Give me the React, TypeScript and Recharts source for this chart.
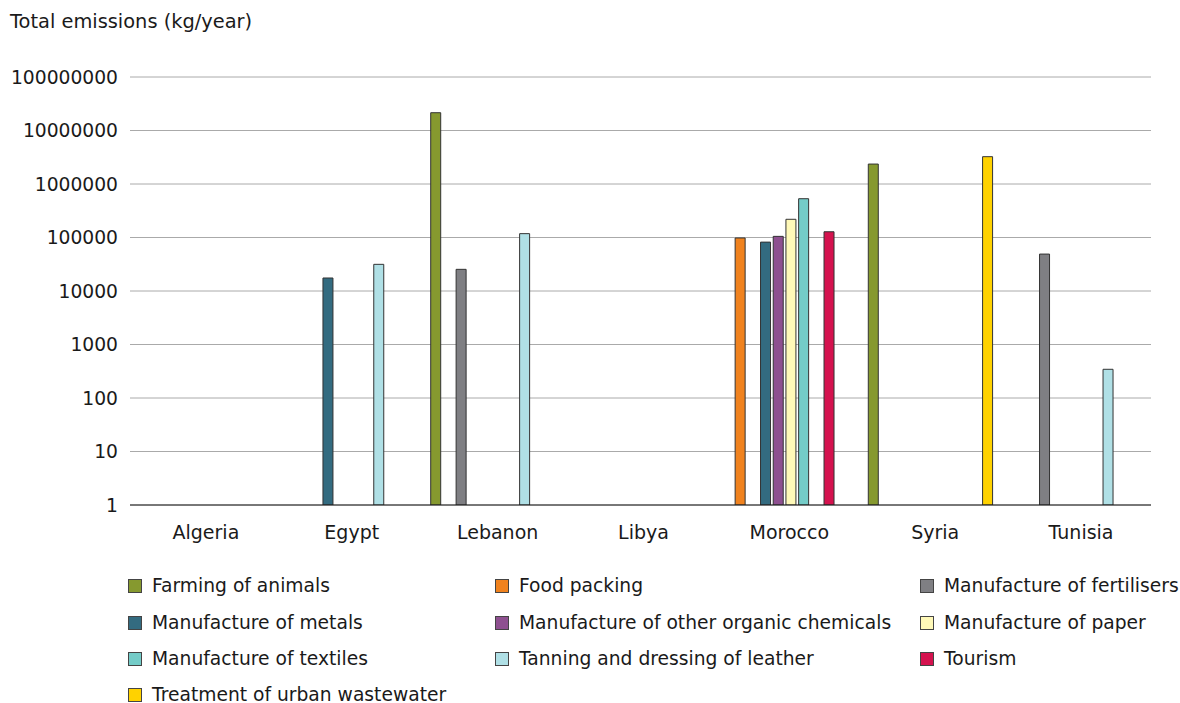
import { BarChart, Bar, XAxis, YAxis, CartesianGrid } from "recharts";

const countries = ["Algeria", "Egypt", "Lebanon", "Libya", "Morocco", "Syria", "Tunisia"];

// one value per country, null = no bar
const farming = [null, null, 21500000, null, null, 2360000, null];
const foodPacking = [null, null, null, null, 98000, null, null];
const fertilisers = [null, null, 25400, null, null, null, 49000];
const metals = [null, 17500, null, null, 82000, null, null];
const otherOrganic = [null, null, null, null, 105000, null, null];
const paper = [null, null, null, null, 219000, null, null];
const textiles = [null, null, null, null, 531000, null, null];
const tanning = [null, 31500, 118000, null, null, null, 344];
const tourism = [null, null, null, null, 128000, null, null];
const wastewater = [null, null, null, null, null, 3240000, null];

const yTicks = [1, 10, 100, 1000, 10000, 100000, 1000000, 10000000, 100000000];

const series = [
  { key: "farming", name: "Farming of animals", color: "#86992f", values: farming },
  { key: "foodPacking", name: "Food packing", color: "#f0821e", values: foodPacking },
  { key: "fertilisers", name: "Manufacture of fertilisers", color: "#7f7f83", values: fertilisers },
  { key: "metals", name: "Manufacture of metals", color: "#336b80", values: metals },
  { key: "otherOrganic", name: "Manufacture of other organic chemicals", color: "#8e5090", values: otherOrganic },
  { key: "paper", name: "Manufacture of paper", color: "#fff9b8", values: paper },
  { key: "textiles", name: "Manufacture of textiles", color: "#74ccc8", values: textiles },
  { key: "tanning", name: "Tanning and dressing of leather", color: "#b0e0e6", values: tanning },
  { key: "tourism", name: "Tourism", color: "#d4124e", values: tourism },
  { key: "wastewater", name: "Treatment of urban wastewater", color: "#ffd200", values: wastewater },
];

const data = countries.map((country, i) => {
  const row: Record<string, string | number | null> = { country };
  series.forEach((s) => {
    row[s.key] = s.values[i];
  });
  return row;
});

const FONT = "'DejaVu Sans', Verdana, sans-serif";

export default function App() {
  return (
    <div
      style={{
        position: "absolute",
        left: 0,
        top: 0,
        width: 1180,
        height: 703,
        background: "#fff",
        fontFamily: FONT,
        color: "#1a1a1a",
        overflow: "hidden",
      }}
    >
      <div style={{ position: "absolute", left: 10, top: 10, fontSize: 19.4 }}>
        Total emissions (kg/year)
      </div>
      <div style={{ position: "absolute", left: 0, top: 0 }}>
        <BarChart
          width={1180}
          height={560}
          data={data}
          margin={{ top: 77, right: 29, bottom: 25, left: 1 }}
          barCategoryGap={9}
          barGap={2.7}
        >
          <CartesianGrid vertical={false} stroke="#aaaaaa" />
          <XAxis
            dataKey="country"
            height={30}
            axisLine={{ stroke: "#1a1a1a" }}
            tickLine={false}
            tickSize={0}
            tickMargin={21}
            tick={{ fill: "#1a1a1a", fontSize: 19, fontFamily: FONT, dx: 3 }}
          />
          <YAxis
            width={129}
            scale="log"
            domain={[1, 100000000]}
            ticks={yTicks}
            allowDataOverflow
            axisLine={false}
            tickLine={false}
            tickSize={0}
            tickMargin={12}
            tick={{ fill: "#1a1a1a", fontSize: 18.7, fontFamily: FONT }}
          />
          {series.map((s) => (
            <Bar
              key={s.key}
              dataKey={s.key}
              name={s.name}
              fill={s.color}
              stroke="#333333"
              strokeWidth={1}
              isAnimationActive={false}
            />
          ))}
        </BarChart>
      </div>
      <div
        style={{
          position: "absolute",
          left: 128,
          top: 568,
          display: "grid",
          gridTemplateColumns: "367px 425px 260px",
          gridAutoRows: "36.4px",
          fontSize: 18.7,
          lineHeight: "22px",
        }}
      >
        {series.map((s) => (
          <div key={s.key} style={{ display: "flex", alignItems: "center", whiteSpace: "nowrap" }}>
            <span
              style={{
                display: "inline-block",
                width: 14,
                height: 14,
                background: s.color,
                border: "1px solid #444",
                marginRight: 10,
                boxSizing: "border-box",
              }}
            />
            {s.name}
          </div>
        ))}
      </div>
    </div>
  );
}
